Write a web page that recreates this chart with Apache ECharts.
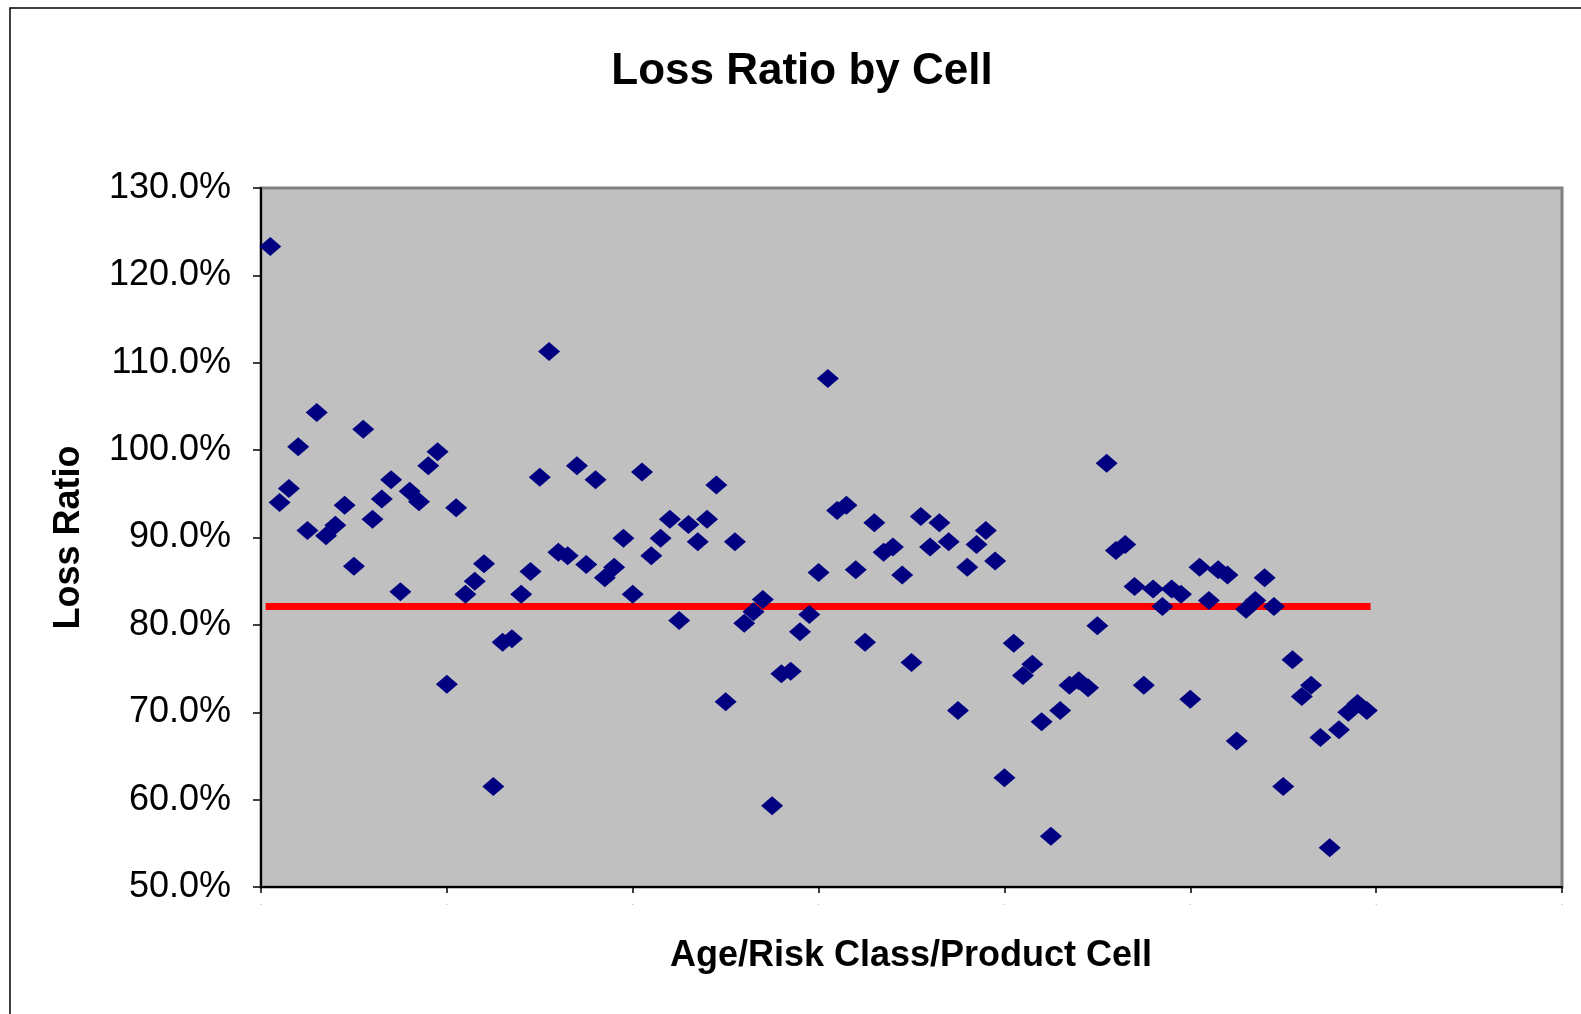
<!DOCTYPE html>
<html>
<head>
<meta charset="utf-8">
<title>Loss Ratio by Cell</title>
<script src="https://cdn.jsdelivr.net/npm/echarts@6/dist/echarts.min.js"></script>
<style>
  html, body { margin: 0; padding: 0; background: #ffffff; }
  #chart { width: 1581px; height: 1014px; }
</style>
</head>
<body>
<div id="chart"></div>
<script>
// Loss ratio (%) for each age / risk class / product cell, in cell order 1..N
const lossRatio = [
  123.3, 94.0, 95.6, 100.4, 90.8, 104.3, 90.2, 91.4, 93.7, 86.7,
  102.4, 92.1, 94.4, 96.6, 83.8, 95.3, 94.1, 98.2, 99.8, 73.2,
  93.4, 83.5, 85.0, 87.0, 61.5, 78.0, 78.4, 83.5, 86.1, 96.9,
  111.3, 88.3, 87.9, 98.2, 86.9, 96.6, 85.4, 86.6, 89.9, 83.5,
  97.5, 87.9, 89.9, 92.1, 80.5, 91.5, 89.5, 92.1, 96.0, 71.2,
  89.5, 80.2, 81.5, 82.9, 59.3, 74.4, 74.7, 79.2, 81.2, 86.0,
  108.2, 93.1, 93.7, 86.3, 78.0, 91.7, 88.3, 88.9, 85.7, 75.7,
  92.4, 88.9, 91.7, 89.5, 70.2, 86.6, 89.2, 90.8, 87.3, 62.5,
  77.9, 74.2, 75.5, 68.9, 55.8, 70.2, 73.1, 73.6, 72.8, 79.9,
  98.5, 88.5, 89.2, 84.4, 73.1, 84.1, 82.1, 84.1, 83.5, 71.5,
  86.6, 82.8, 86.3, 85.7, 66.7, 81.8, 82.8, 85.4, 82.1, 61.5,
  76.0, 71.8, 73.1, 67.1, 54.5, 68.0, 70.0, 71.0, 70.2
];

// Overall loss ratio drawn as a horizontal reference line across the cells
const overallRatio = 82.1;
const overallSpan = [0.5, 119.4];

// Axis ranges and tick spacing
const yTicks = { min: 50, max: 130, step: 10 };
const xTicks = { min: 0, max: 140, step: 20 };

const titleText = 'Loss Ratio by Cell';
const xTitle = 'Age/Risk Class/Product Cell';
const yTitle = 'Loss Ratio';

const cellPoints = lossRatio.map((v, i) => [i + 1, v]);
const overallLine = overallSpan.map(x => [x, overallRatio]);

const chart = echarts.init(document.getElementById('chart'), null, { renderer: 'canvas' });

const fontFamily = 'Liberation Sans, Arial, sans-serif';

chart.setOption({
  backgroundColor: '#ffffff',
  animation: false,
  title: {
    text: titleText,
    left: 797,
    top: 45,
    textAlign: 'center',
    textStyle: { fontFamily, fontWeight: 'bold', fontSize: 44, color: '#000000' }
  },
  graphic: [
    {
      type: 'rect',
      shape: { x: 10, y: 8, width: 1620, height: 1060 },
      style: { fill: null, stroke: '#000000', lineWidth: 1.5 },
      silent: true,
      z: 100
    },
    {
      type: 'text',
      x: 911,
      y: 956,
      style: {
        text: xTitle,
        textAlign: 'center',
        textVerticalAlign: 'middle',
        fontFamily, fontWeight: 'bold', fontSize: 36, fill: '#000000'
      }
    }
  ],
  grid: {
    left: 261, top: 188, width: 1301, height: 699,
    show: true,
    backgroundColor: '#c0c0c0',
    borderColor: '#808080',
    borderWidth: 3
  },
  xAxis: {
    type: 'value',
    min: xTicks.min, max: xTicks.max, interval: xTicks.step,
    axisLine: { show: true, onZero: false, lineStyle: { color: '#000000', width: 2 } },
    axisTick: { show: true, length: 6, lineStyle: { color: '#000000', width: 1.5 } },
    axisLabel: {
      formatter: () => '-',
      fontSize: 6, color: '#999999', margin: 14
    },
    splitLine: { show: false }
  },
  yAxis: {
    type: 'value',
    min: yTicks.min, max: yTicks.max, interval: yTicks.step,
    name: yTitle,
    nameLocation: 'middle',
    nameGap: 174,
    nameRotate: 90,
    nameTextStyle: { fontFamily, fontWeight: 'bold', fontSize: 36, color: '#000000' },
    axisLine: { show: true, onZero: false, lineStyle: { color: '#000000', width: 2 } },
    axisTick: { show: true, length: 8, lineStyle: { color: '#000000', width: 1.5 } },
    axisLabel: {
      formatter: v => v.toFixed(1) + '%',
      fontFamily, fontSize: 36, color: '#000000', margin: 30,
      padding: [6, 0, 0, 0]
    },
    splitLine: { show: false }
  },
  series: [
    {
      name: 'Overall',
      type: 'line',
      data: overallLine,
      symbol: 'none',
      lineStyle: { color: '#ff0000', width: 7, cap: 'butt' },
      z: 2,
      silent: true
    },
    {
      name: 'Loss Ratio',
      type: 'scatter',
      data: cellPoints,
      symbol: 'diamond',
      symbolSize: [22, 19],
      itemStyle: { color: '#000080', opacity: 1 },
      z: 3
    }
  ]
});
</script>
</body>
</html>
